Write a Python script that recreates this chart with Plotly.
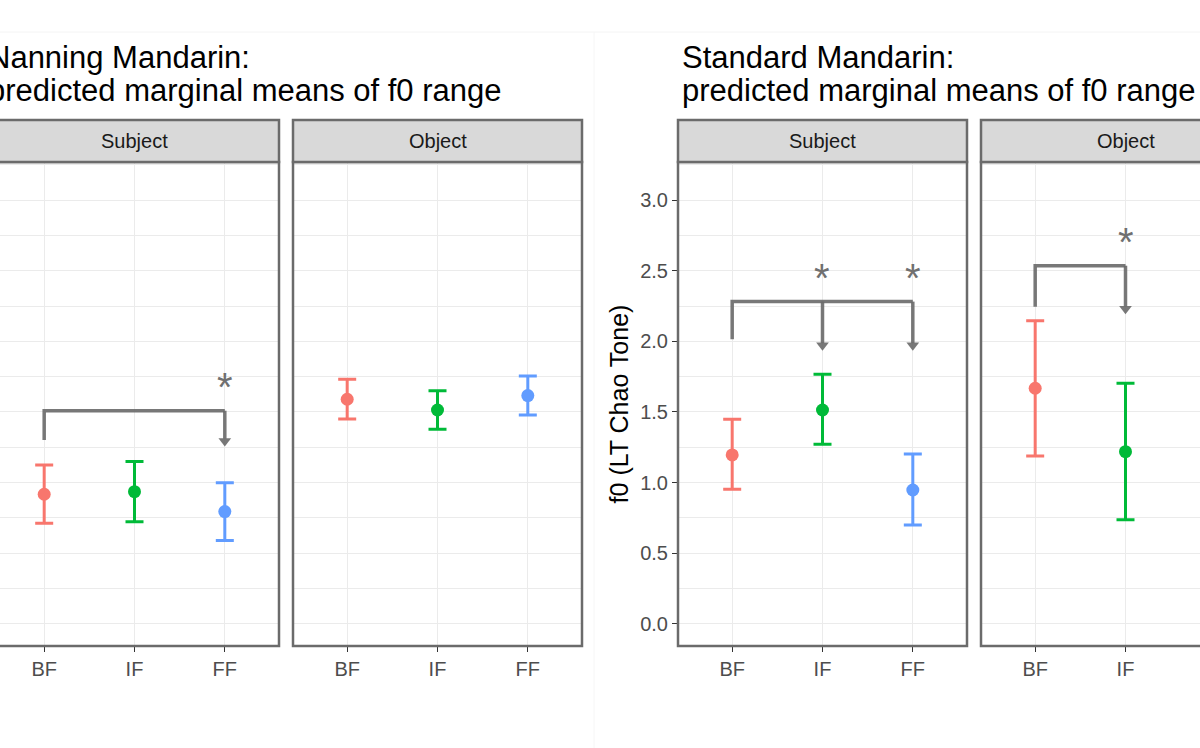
import plotly.graph_objects as go

# categories and colours (ggplot default hues)
levels = ["BF", "IF", "FF"]
level_colors = ["#F8766D", "#00BA38", "#619CFF"]

# Nanning Mandarin, predicted marginal means of f0 range
nan_subj_mean = [0.918, 0.936, 0.795]
nan_subj_low = [0.712, 0.724, 0.590]
nan_subj_high = [1.125, 1.149, 1.000]
nan_obj_mean = [1.590, 1.514, 1.616]
nan_obj_low = [1.450, 1.378, 1.479]
nan_obj_high = [1.731, 1.651, 1.755]

# Standard Mandarin (Object FF is outside the visible crop)
std_subj_mean = [1.196, 1.514, 0.948]
std_subj_low = [0.953, 1.271, 0.700]
std_subj_high = [1.448, 1.767, 1.203]
std_obj_levels = ["BF", "IF"]
std_obj_mean = [1.668, 1.219]
std_obj_low = [1.189, 0.738]
std_obj_high = [2.146, 1.703]

# significance brackets: from, to-list, bracket top, start leg end, arrow tip, star height
nan_subj_bracket = dict(start="BF", ends=["FF"], top=1.509, base=1.302, tip=1.250, star=1.715)
std_subj_bracket = dict(start="BF", ends=["IF", "FF"], top=2.281, base=2.014, tip=1.927, star=2.481)
std_obj_bracket = dict(start="BF", ends=["IF"], top=2.535, base=2.245, tip=2.186, star=2.736)

panel_titles = ["Subject", "Object", "Subject", "Object"]
plot_titles = [["Nanning Mandarin:", "predicted marginal means of f0 range"],
               ["Standard Mandarin:", "predicted marginal means of f0 range"]]
y_title = "f0 (LT Chao Tone)"
y_ticks = [0.0, 0.5, 1.0, 1.5, 2.0, 2.5, 3.0]

W, H = 1200, 748
FONT = "Liberation Sans, Arial, sans-serif"
BORDER = "#6b6b6b"
GRID = "#EBEBEB"
BRACKET = "rgba(105,105,105,0.9)"


def px(x):
    return x / W


def py(y):
    return 1 - y / H


# panel pixel boxes (left, right) -- some panels run past the crop edge
panels = [(-10, 279), (293, 582), (678, 967), (981, 1270)]
top_px, bottom_px, strip_top_px = 162, 646, 120
step = 3.2  # category units across a panel

fig = go.Figure()

series = [
    (levels, nan_subj_mean, nan_subj_low, nan_subj_high),
    (levels, nan_obj_mean, nan_obj_low, nan_obj_high),
    (levels, std_subj_mean, std_subj_low, std_subj_high),
    (std_obj_levels, std_obj_mean, std_obj_low, std_obj_high),
]

for i, (cats, mean, low, high) in enumerate(series):
    xa = "x" if i == 0 else f"x{i + 1}"
    ya = "y" if i == 0 else f"y{i + 1}"
    for c, m, lo, hi in zip(cats, mean, low, high):
        col = level_colors[levels.index(c)]
        fig.add_trace(go.Scatter(
            x=[c], y=[m], mode="markers", xaxis=xa, yaxis=ya,
            marker=dict(color=col, size=13),
            error_y=dict(type="data", symmetric=False, array=[hi - m], arrayminus=[m - lo],
                         color=col, thickness=3, width=9),
            showlegend=False, hoverinfo="skip"))

stars = []
for i, br in [(0, nan_subj_bracket), (2, std_subj_bracket), (3, std_obj_bracket)]:
    xa = "x" if i == 0 else f"x{i + 1}"
    ya = "y" if i == 0 else f"y{i + 1}"
    last = br["ends"][-1]
    xs = [br["start"], br["start"], last]
    ys = [br["base"], br["top"], br["top"]]
    for e in br["ends"]:
        xs += [None, e, e]
        ys += [None, br["top"], br["tip"] + 0.06]
    fig.add_trace(go.Scatter(x=xs, y=ys, mode="lines", xaxis=xa, yaxis=ya,
                             line=dict(color=BRACKET, width=3.5),
                             showlegend=False, hoverinfo="skip"))
    fig.add_trace(go.Scatter(x=br["ends"], y=[br["tip"] + 0.045] * len(br["ends"]),
                             mode="markers", xaxis=xa, yaxis=ya,
                             marker=dict(symbol="triangle-down", size=11, color=BRACKET),
                             showlegend=False, hoverinfo="skip"))
    for e in br["ends"]:
        stars.append(dict(x=e, y=br["star"], xref=xa, yref=ya, text="*", showarrow=False,
                          font=dict(family=FONT, size=40, color="#707070"),
                          yanchor="middle", yshift=-5))

layout = dict(width=W, height=H, margin=dict(l=0, r=0, t=0, b=0),
              paper_bgcolor="white", plot_bgcolor="white", showlegend=False)

shapes = []
annotations = list(stars)
for i, (l, r) in enumerate(panels):
    vis_l, vis_r = max(l, 0), min(r, W)
    r0 = -0.6 + step * (vis_l - l) / (r - l)
    r1 = -0.6 + step * (vis_r - l) / (r - l)
    xk = "xaxis" if i == 0 else f"xaxis{i + 1}"
    yk = "yaxis" if i == 0 else f"yaxis{i + 1}"
    xa = "x" if i == 0 else f"x{i + 1}"
    ya = "y" if i == 0 else f"y{i + 1}"
    layout[xk] = dict(domain=[px(vis_l), px(vis_r)], anchor=ya, type="category",
                      categoryorder="array", categoryarray=levels, range=[r0, r1],
                      showgrid=True, gridcolor=GRID, gridwidth=1.3, zeroline=False,
                      ticks="outside", ticklen=5, tickwidth=1.3, tickcolor="#333333",
                      tickfont=dict(family=FONT, size=20, color="#4D4D4D"),
                      showline=False, fixedrange=True)
    layout[yk] = dict(domain=[py(bottom_px), py(top_px)], anchor=xa,
                      range=[-0.156, 3.269], tickvals=y_ticks, tickformat=".1f",
                      showgrid=True, gridcolor=GRID, gridwidth=1.3, zeroline=False,
                      minor=dict(dtick=0.25, tick0=0.25, showgrid=True, gridcolor=GRID, gridwidth=0.8),
                      showticklabels=(i == 2), ticks="outside" if i == 2 else "",
                      ticklen=5, tickwidth=1.3, tickcolor="#333333",
                      tickfont=dict(family=FONT, size=20, color="#4D4D4D"),
                      showline=False, fixedrange=True)
    # panel border and strip
    shapes.append(dict(type="rect", xref="paper", yref="paper",
                       x0=px(l), x1=px(r), y0=py(bottom_px), y1=py(top_px),
                       line=dict(color=BORDER, width=2.5), layer="above"))
    shapes.append(dict(type="rect", xref="paper", yref="paper",
                       x0=px(l), x1=px(r), y0=py(top_px), y1=py(strip_top_px),
                       fillcolor="#D9D9D9", line=dict(color=BORDER, width=2.5), layer="above"))
    annotations.append(dict(x=px((l + r) / 2), y=py((top_px + strip_top_px) / 2),
                            xref="paper", yref="paper", text=panel_titles[i], showarrow=False,
                            font=dict(family=FONT, size=20, color="#1A1A1A"),
                            xanchor="center", yanchor="middle"))

layout["yaxis3"]["title"] = dict(text=y_title, standoff=4,
                                 font=dict(family=FONT, size=25, color="black"))

# plot titles, two lines each; the left one starts just past the crop edge
for x0, lines in zip([-14, 680], plot_titles):
    for k, line in enumerate(lines):
        annotations.append(dict(x=px(x0), y=py(58 + 32 * k), xref="paper", yref="paper",
                                text=line, showarrow=False, xanchor="left", yanchor="middle",
                                font=dict(family=FONT, size=31, color="black")))

# faint seams of the pasted images
shapes.append(dict(type="line", xref="paper", yref="paper", x0=0, x1=1, y0=py(32), y1=py(32),
                   line=dict(color="#F4F4F4", width=1)))
shapes.append(dict(type="line", xref="paper", yref="paper", x0=px(594), x1=px(594), y0=py(32), y1=0,
                   line=dict(color="#F6F6F6", width=1)))

layout["shapes"] = shapes
layout["annotations"] = annotations
fig.update_layout(**layout)

# drop the page's default body margin so the figure sits at the window corner
fig.write_html("out.html", config={"displayModeBar": False},
               post_script="document.body.style.margin='0';")
